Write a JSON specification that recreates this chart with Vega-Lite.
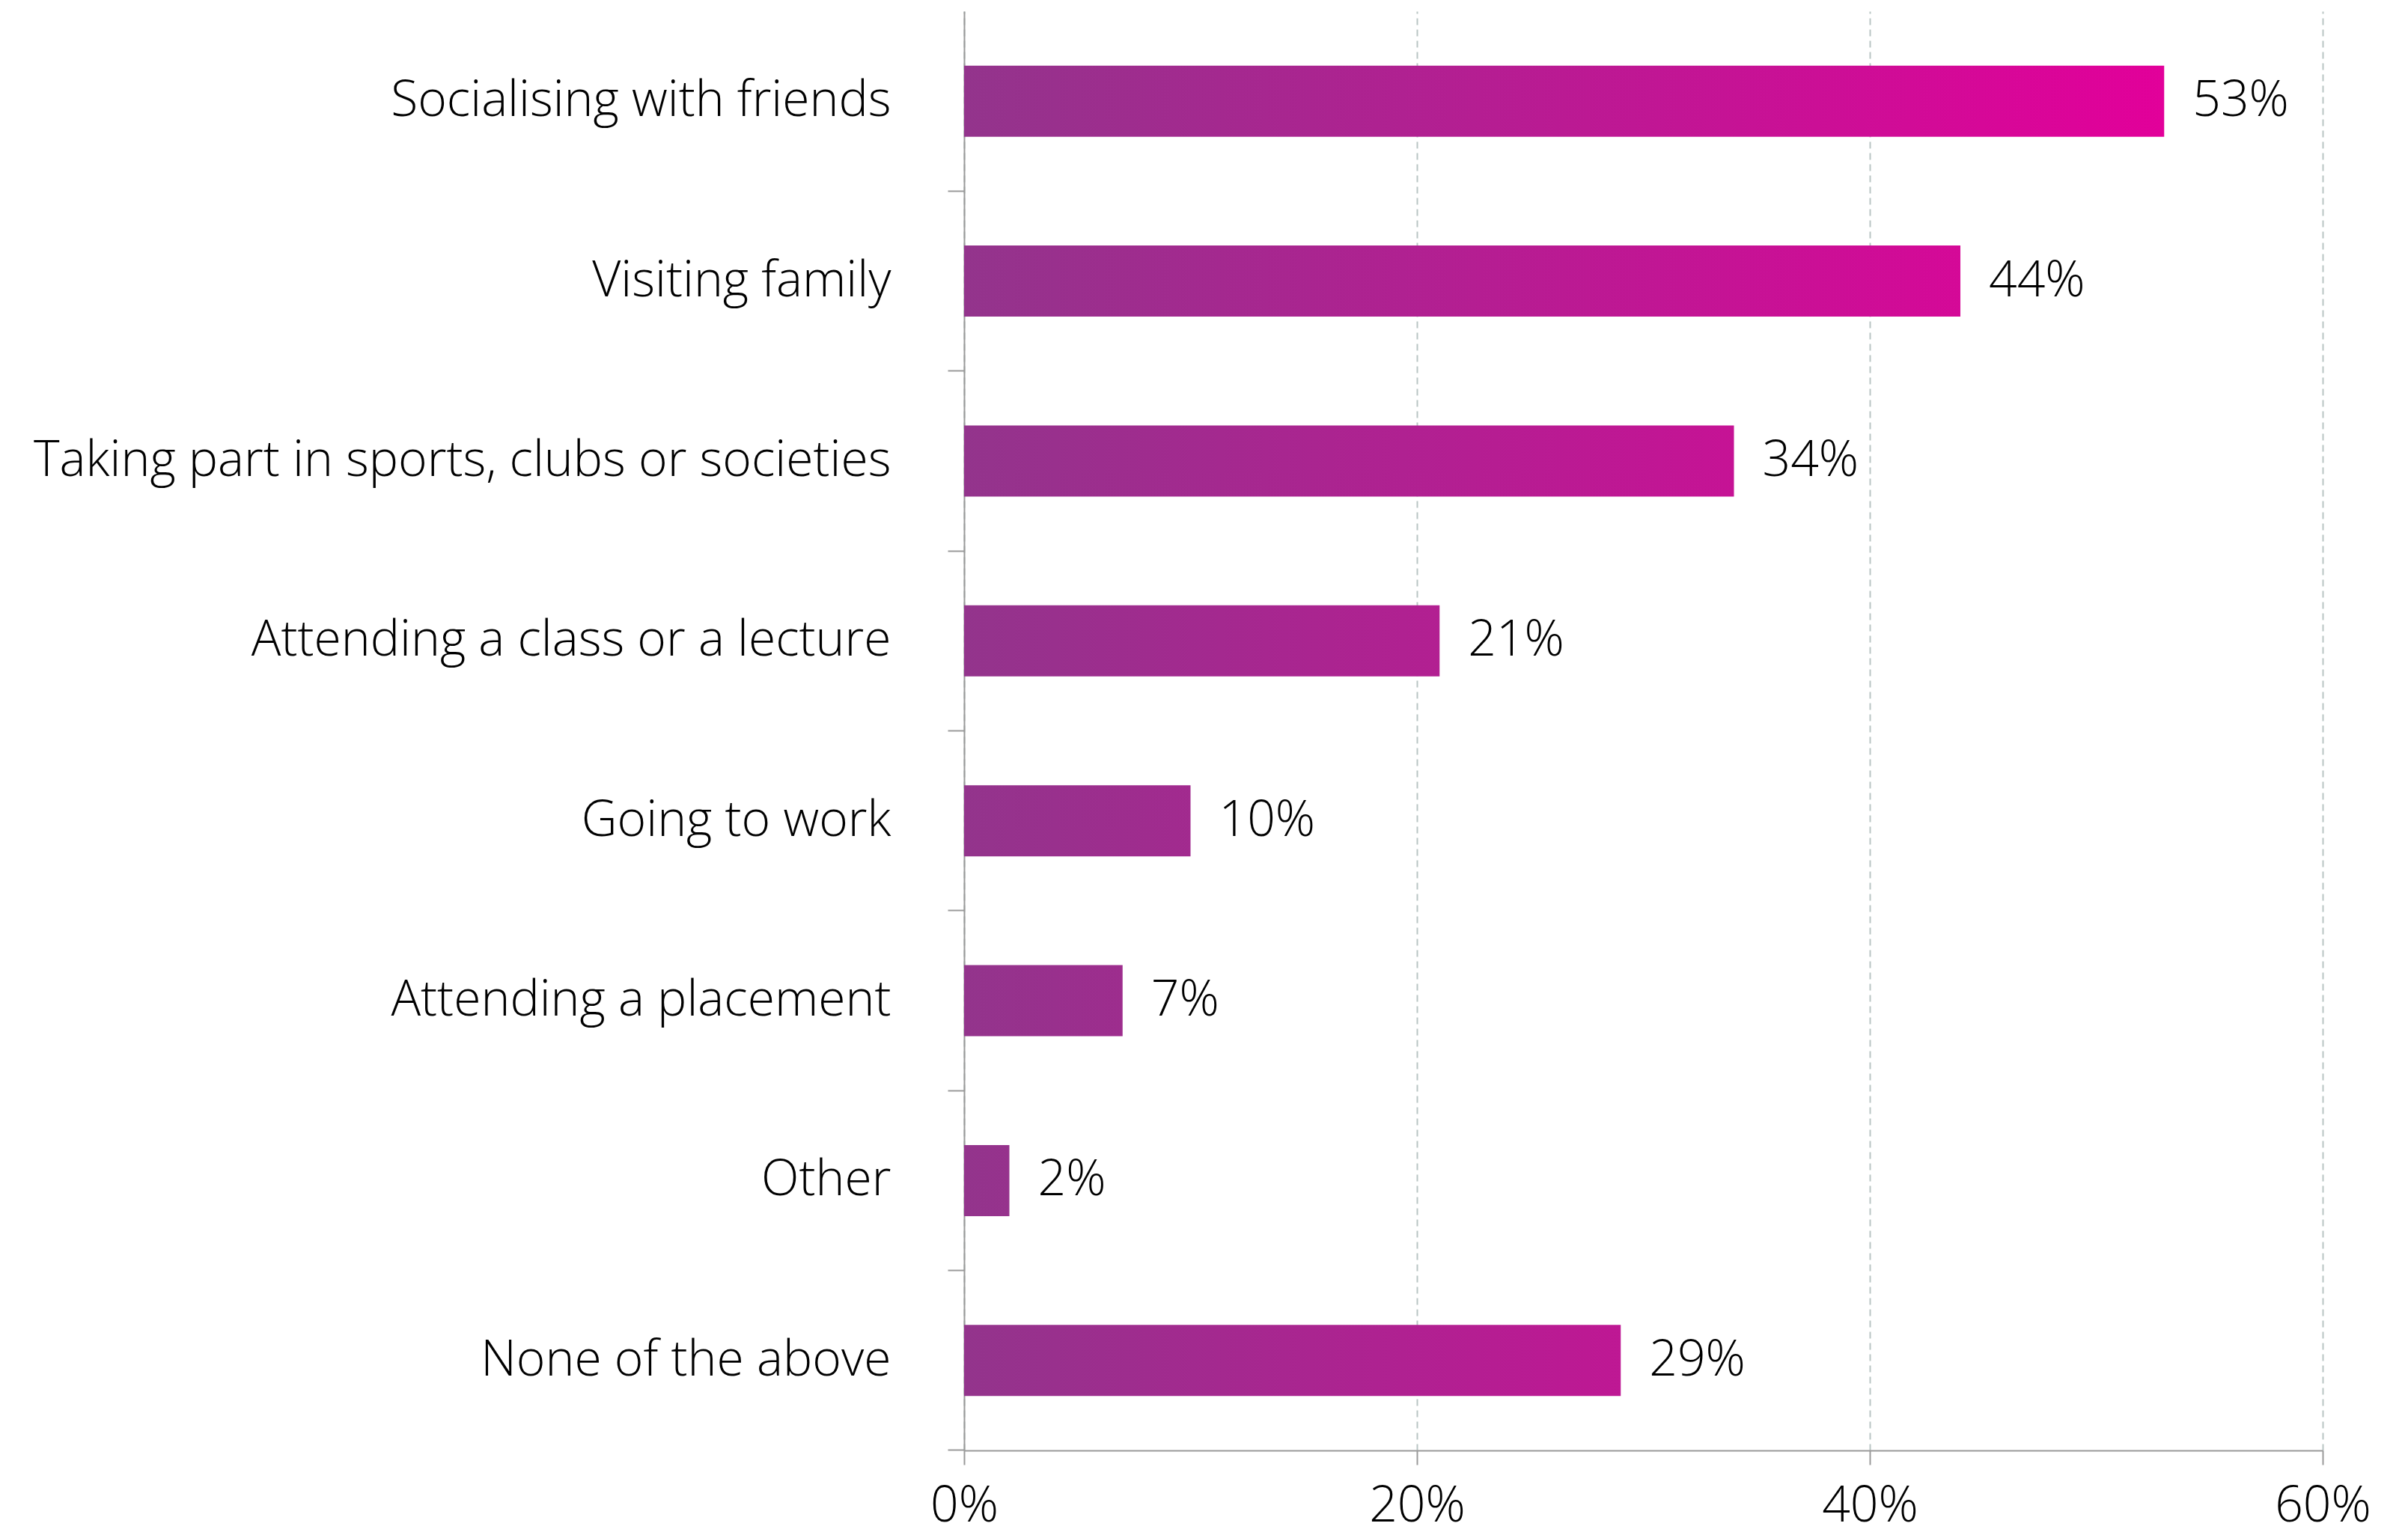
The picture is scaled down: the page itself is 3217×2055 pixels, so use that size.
{
  "$schema": "https://vega.github.io/schema/vega-lite/v6.json",
  "width": 1815,
  "height": 1923,
  "autosize": {"type": "none"},
  "padding": {"left": 1288, "top": 15, "right": 114, "bottom": 117},
  "background": "white",
  "config": {
    "view": {"stroke": null},
    "font": "Open Sans"
  },
  "data": {
    "values": [
      {"item": "Socialising with friends", "pct": 0.53},
      {"item": "Visiting family", "pct": 0.44},
      {"item": "Taking part in sports, clubs or societies", "pct": 0.34},
      {"item": "Attending a class or a lecture", "pct": 0.21},
      {"item": "Going to work", "pct": 0.10},
      {"item": "Attending a placement", "pct": 0.07},
      {"item": "Other", "pct": 0.02},
      {"item": "None of the above", "pct": 0.29}
    ]
  },
  "encoding": {
    "y": {
      "field": "item",
      "type": "nominal",
      "sort": null,
      "title": null,
      "scale": {"paddingInner": 0.605, "paddingOuter": 0.3025},
      "axis": {
        "domainColor": "#9a9a9a",
        "domainWidth": 2,
        "tickColor": "#9a9a9a",
        "tickWidth": 2,
        "tickSize": 22,
        "bandPosition": 1.765,
        "labelFont": "Open Sans",
        "labelFontWeight": 300,
        "labelFontSize": 66,
        "labelColor": "#000000",
        "labelPadding": 76,
        "labelLimit": 0
      }
    },
    "x": {
      "field": "pct",
      "type": "quantitative",
      "title": null,
      "scale": {"domain": [0, 0.6], "nice": false},
      "axis": {
        "values": [0, 0.2, 0.4, 0.6],
        "format": ".0%",
        "domainColor": "#9a9a9a",
        "domainWidth": 2,
        "tickColor": "#9a9a9a",
        "tickWidth": 2,
        "tickSize": 19,
        "grid": true,
        "gridColor": "#b9c5c4",
        "gridWidth": 2,
        "gridDash": [9, 6],
        "labelFont": "Open Sans",
        "labelFontWeight": 300,
        "labelFontSize": 66,
        "labelColor": "#000000",
        "labelPadding": 23,
        "labelFlush": false
      }
    }
  },
  "layer": [
    {
      "mark": {"type": "bar"},
      "encoding": {
        "color": {
          "condition": [
            {"test": "datum.item === 'Visiting family'", "value": {"gradient": "linear", "x1": 0, "y1": 0, "x2": 1.2045, "y2": 0, "stops": [{"offset": 0, "color": "#93348c"}, {"offset": 1, "color": "#e2009a"}]}},
            {"test": "datum.item === 'Taking part in sports, clubs or societies'", "value": {"gradient": "linear", "x1": 0, "y1": 0, "x2": 1.5588, "y2": 0, "stops": [{"offset": 0, "color": "#93348c"}, {"offset": 1, "color": "#e2009a"}]}},
            {"test": "datum.item === 'Attending a class or a lecture'", "value": {"gradient": "linear", "x1": 0, "y1": 0, "x2": 2.5238, "y2": 0, "stops": [{"offset": 0, "color": "#93348c"}, {"offset": 1, "color": "#e2009a"}]}},
            {"test": "datum.item === 'Going to work'", "value": {"gradient": "linear", "x1": 0, "y1": 0, "x2": 5.3, "y2": 0, "stops": [{"offset": 0, "color": "#93348c"}, {"offset": 1, "color": "#e2009a"}]}},
            {"test": "datum.item === 'Attending a placement'", "value": {"gradient": "linear", "x1": 0, "y1": 0, "x2": 7.571, "y2": 0, "stops": [{"offset": 0, "color": "#93348c"}, {"offset": 1, "color": "#e2009a"}]}},
            {"test": "datum.item === 'Other'", "value": {"gradient": "linear", "x1": 0, "y1": 0, "x2": 26.5, "y2": 0, "stops": [{"offset": 0, "color": "#93348c"}, {"offset": 1, "color": "#e2009a"}]}},
            {"test": "datum.item === 'None of the above'", "value": {"gradient": "linear", "x1": 0, "y1": 0, "x2": 1.8276, "y2": 0, "stops": [{"offset": 0, "color": "#93348c"}, {"offset": 1, "color": "#e2009a"}]}}
          ],
          "value": {"gradient": "linear", "x1": 0, "y1": 0, "x2": 1, "y2": 0, "stops": [{"offset": 0, "color": "#93348c"}, {"offset": 1, "color": "#e2009a"}]}
        }
      }
    },
    {
      "mark": {"type": "text", "align": "left", "baseline": "middle", "dx": 38, "font": "Open Sans", "fontWeight": 300, "fontSize": 66, "color": "#000000"},
      "encoding": {
        "text": {"field": "pct", "type": "quantitative", "format": ".0%"}
      }
    }
  ]
}
